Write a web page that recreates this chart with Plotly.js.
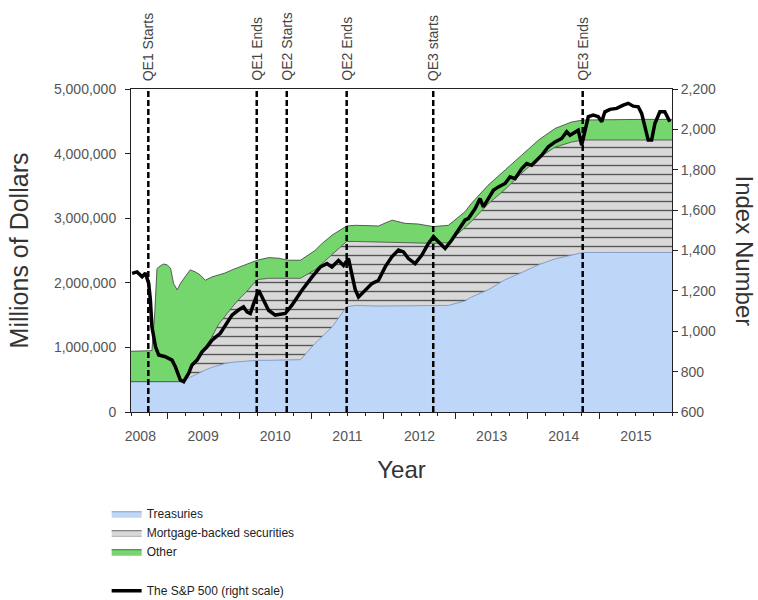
<!DOCTYPE html>
<html><head><meta charset="utf-8">
<script src="https://cdn.plot.ly/plotly-3.0.1.min.js"></script>
<style>html,body{margin:0;padding:0;background:#fff}</style>
</head><body><div id="chart" style="width:758px;height:600px"></div>
<script>
// Federal Reserve balance sheet (millions of dollars), decimal years
const bsYears = [2008.50,2008.79,2008.83,2008.86,2008.89,2008.95,2009.00,2009.05,2009.09,2009.14,
  2009.19,2009.25,2009.32,2009.39,2009.46,2009.53,2009.62,2009.71,2009.80,2009.90,
  2010.00,2010.10,2010.25,2010.41,2010.55,2010.68,2010.85,2011.05,2011.15,2011.29,
  2011.49,2011.61,2011.93,2012.12,2012.30,2012.48,2012.69,2012.90,2013.13,2013.22,
  2013.45,2013.69,2013.92,2014.15,2014.38,2014.61,2014.77,2015.20,2015.60,2016.00];
const treasuries = [470000,470000,470000,470000,470000,470000,470000,470000,470000,470000,
  470000,500000,540000,570000,610000,650000,690000,720000,750000,770000,
  780000,790000,800000,800000,800000,800000,810000,1060000,1170000,1320000,
  1630000,1650000,1640000,1640000,1640000,1640000,1640000,1650000,1720000,1780000,
  1890000,2050000,2160000,2280000,2370000,2430000,2470000,2470000,2470000,2470000];
const mbs = [0,0,0,0,0,0,0,0,0,0,
  0,20000,120000,190000,310000,360000,470000,630000,730000,850000,
  970000,1070000,1250000,1270000,1270000,1270000,1260000,1140000,1130000,1130000,
  1010000,990000,990000,990000,980000,980000,970000,970000,1130000,1170000,
  1330000,1400000,1540000,1650000,1730000,1750000,1740000,1740000,1740000,1740000];
const other = [470000,480000,1080000,1750000,1780000,1820000,1810000,1750000,1520000,1420000,
  1530000,1570000,1540000,1410000,1200000,1030000,930000,770000,670000,580000,
  490000,430000,300000,320000,310000,280000,280000,300000,310000,290000,
  240000,250000,250000,340000,300000,290000,260000,270000,250000,280000,
  290000,300000,280000,280000,290000,310000,310000,320000,320000,320000];

// S&P 500 index (right scale)
const spYears = [2008.515,2008.584,2008.654,2008.70,2008.745,2008.769,2008.79,2008.84,2008.884,2008.976,
  2009.069,2009.115,2009.184,2009.23,2009.30,2009.346,2009.416,2009.485,2009.554,2009.623,
  2009.738,2009.807,2009.90,2009.99,2010.06,2010.108,2010.154,2010.20,2010.27,2010.338,
  2010.407,2010.50,2010.638,2010.731,2010.87,2011.008,2011.123,2011.216,2011.285,2011.377,
  2011.446,2011.515,2011.562,2011.608,2011.654,2011.746,2011.839,2011.931,2012.024,2012.116,
  2012.208,2012.277,2012.346,2012.439,2012.532,2012.623,2012.693,2012.762,2012.855,2012.947,
  2013.062,2013.132,2013.177,2013.27,2013.339,2013.385,2013.454,2013.523,2013.593,2013.686,
  2013.755,2013.824,2013.917,2013.986,2014.055,2014.125,2014.194,2014.285,2014.378,2014.471,
  2014.54,2014.586,2014.632,2014.70,2014.748,2014.794,2014.84,2014.909,2014.978,2015.025,
  2015.07,2015.14,2015.233,2015.324,2015.393,2015.463,2015.532,2015.579,2015.625,2015.67,
  2015.717,2015.763,2015.832,2015.90,2015.97];
const sp500 = [1287,1294,1270,1288,1237,1154,1022,923,882,874,
  857,824,758,750,792,833,857,898,923,956,
  990,1031,1080,1105,1121,1096,1088,1137,1203,1154,
  1104,1080,1088,1129,1203,1268,1318,1335,1318,1351,
  1326,1360,1275,1207,1170,1203,1236,1253,1319,1369,
  1402,1393,1360,1335,1377,1435,1468,1443,1410,1452,
  1518,1551,1558,1607,1657,1616,1657,1698,1715,1732,
  1765,1756,1806,1831,1822,1847,1872,1914,1938,1955,
  1988,1971,1980,1996,1922,1996,2063,2071,2063,2038,
  2087,2099,2104,2120,2129,2115,2112,2079,2013,1947,
  1947,2029,2087,2087,2038];

const yearTicks = [2009,2010,2011,2012,2013,2014,2015];
const yearLabels = ['2008','2009','2010','2011','2012','2013','2014','2015'];
const yearLabelPos = [2008.63,2009.5,2010.5,2011.5,2012.5,2013.5,2014.5,2015.5];

const qeDates = [2008.74,2010.243,2010.659,2011.49,2012.69,2014.762];
const qeLabels = ['QE1 Starts','QE1 Ends','QE2 Starts','QE2 Ends','QE3 starts','QE3 Ends'];

const FONT = 'Liberation Sans, Arial, sans-serif';

const traces = [
  {x: bsYears, y: treasuries, name: 'Treasuries', type: 'scatter', mode: 'lines',
   stackgroup: 'bs', legendgroup: 'a', fillcolor: 'rgb(190,214,248)',
   line: {color: 'rgb(110,140,190)', width: 0.8}, hoverinfo: 'skip'},
  {x: bsYears, y: mbs, name: 'Mortgage-backed securities', type: 'scatter', mode: 'lines',
   stackgroup: 'bs', legendgroup: 'a', fillcolor: 'rgb(216,216,216)',
   fillpattern: {shape: '-', fgcolor: '#555555', bgcolor: 'rgb(216,216,216)', size: 9, solidity: 0.15},
   line: {color: '#444444', width: 0.8}, hoverinfo: 'skip'},
  {x: bsYears, y: other, name: 'Other', type: 'scatter', mode: 'lines',
   stackgroup: 'bs', legendgroup: 'a', fillcolor: 'rgb(118,214,110)',
   line: {color: '#3a3a3a', width: 0.8}, hoverinfo: 'skip'},
  {x: spYears, y: sp500, name: 'The S&P 500 (right scale)', type: 'scatter', mode: 'lines',
   xaxis: 'x2', yaxis: 'y2', legendgroup: 'b',
   line: {color: '#000000', width: 3.5}, hoverinfo: 'skip'}
];

const shapes = qeDates.map(d => ({
  type: 'line', xref: 'x', yref: 'paper', x0: d, x1: d, y0: 0, y1: 1,
  line: {color: '#000', width: 2.5, dash: '6px,3px'}, layer: 'above'
}));

const annotations = qeDates.map((d, i) => ({
  x: d, y: 1, xref: 'x', yref: 'paper', text: qeLabels[i], showarrow: false,
  textangle: -90, xanchor: 'center', yanchor: 'bottom', yshift: 6,
  font: {family: FONT, size: 14, color: '#444'}
}));
annotations.push({
  x: 1, y: 0.5, xref: 'paper', yref: 'paper', xshift: 72, text: 'Index Number',
  showarrow: false, textangle: 90, xanchor: 'center', yanchor: 'middle',
  font: {family: FONT, size: 24, color: '#333'}
});

const axisCommon = {showgrid: false, zeroline: false, linecolor: '#222', linewidth: 1,
  tickcolor: '#222', tickfont: {family: FONT, size: 14, color: '#555'}};

const layout = {
  width: 758, height: 600,
  margin: {l: 131, r: 86, t: 89, b: 188, autoexpand: false},
  paper_bgcolor: '#fff', plot_bgcolor: '#fff',
  font: {family: FONT},
  showlegend: true,
  legend: {x: -0.045, y: -0.27, xanchor: 'left', yanchor: 'top', traceorder: 'grouped',
    tracegroupgap: 20, itemwidth: 30, font: {family: FONT, size: 12, color: '#222'},
    bgcolor: 'rgba(0,0,0,0)'},
  xaxis: Object.assign({}, axisCommon, {
    range: [2008.5, 2016], showline: true, mirror: true,
    tickmode: 'array', tickvals: yearTicks, ticks: 'outside', ticklen: 6, showticklabels: false,
    minor: {tick0: 2008, dtick: 0.25, ticks: 'outside', ticklen: 3, tickcolor: '#222'}
  }),
  xaxis2: Object.assign({}, axisCommon, {
    range: [2008.5, 2016], overlaying: 'x', anchor: 'y', side: 'bottom', showline: false,
    tickmode: 'array', tickvals: yearLabelPos, ticktext: yearLabels, ticks: '',
    ticklabelstandoff: 14,
    title: {text: 'Year', font: {family: FONT, size: 24, color: '#333'}, standoff: 18}
  }),
  yaxis: Object.assign({}, axisCommon, {
    range: [0, 5000000], dtick: 1000000, tickformat: ',d', showline: true,
    ticks: 'outside', ticklen: 5, ticklabelstandoff: 6,
    title: {text: 'Millions of Dollars', font: {family: FONT, size: 25, color: '#333'}, standoff: 18}
  }),
  yaxis2: Object.assign({}, axisCommon, {
    range: [600, 2200], dtick: 200, tickformat: ',d', overlaying: 'y', side: 'right',
    anchor: 'x', showline: true, ticks: 'outside', ticklen: 5
  }),
  shapes: shapes,
  annotations: annotations
};

Plotly.newPlot('chart', traces, layout, {displayModeBar: false, staticPlot: true});
</script>
</body></html>
